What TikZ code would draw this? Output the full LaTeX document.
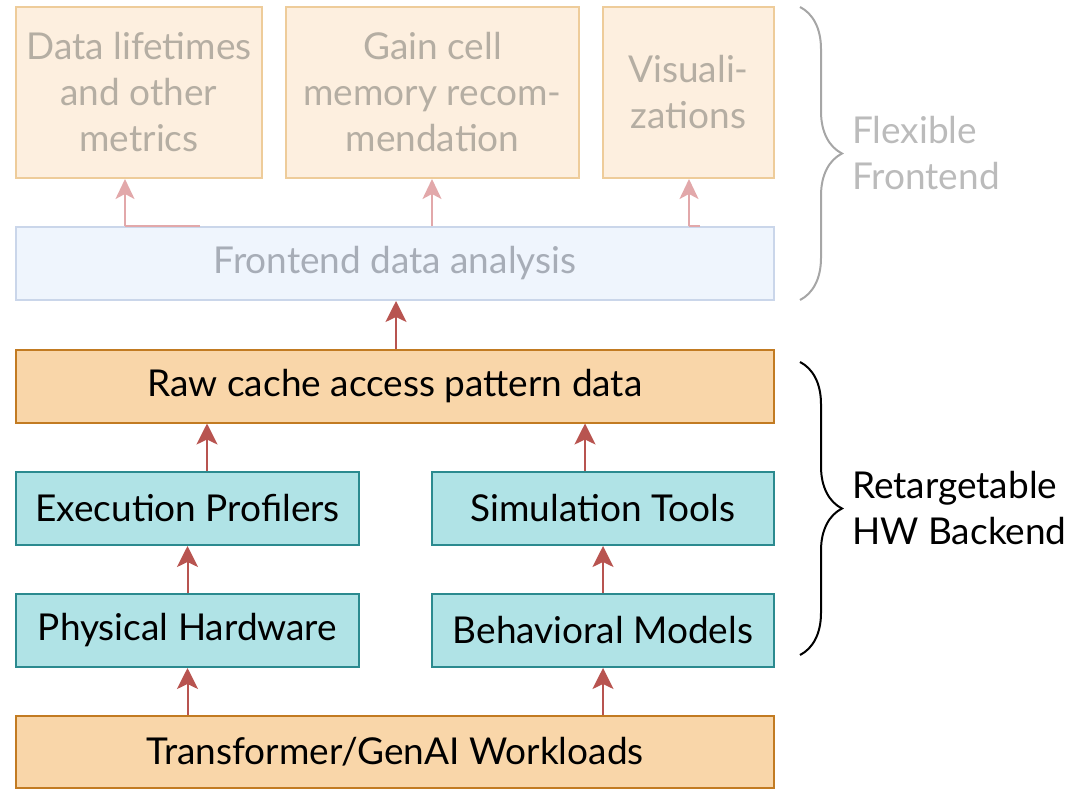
\documentclass[tikz,border=0pt]{standalone}
\usepackage{fontspec}
\setmainfont{Lato}
\usetikzlibrary{arrows.meta,decorations.pathreplacing}

\definecolor{peachfill}{HTML}{F9D6A9}
\definecolor{peachline}{HTML}{C27B22}
\definecolor{tealfill}{HTML}{B0E3E6}
\definecolor{tealline}{HTML}{2B8A8F}
\definecolor{arrowred}{HTML}{B85450}
\definecolor{palepeach}{HTML}{FDEFDF}
\definecolor{palepeachline}{HTML}{EECC9A}
\definecolor{palebluefill}{HTML}{EFF5FD}
\definecolor{paleblueline}{HTML}{CAD6EA}
\definecolor{palearrow}{HTML}{E2A8AA}
\definecolor{paletext}{HTML}{B5AEA3}
\definecolor{palebluetext}{HTML}{A7ADB7}
\definecolor{bracegray}{HTML}{A6A6A6}
\definecolor{bracetext}{HTML}{BBBBBB}

\tikzset{
  basebox/.style={rectangle, inner sep=0pt, line width=2pt, align=center,
    font=\fontsize{37}{46}\selectfont},
  rawbox/.style={basebox, draw=peachline, fill=peachfill, text=black},
  toolbox/.style={basebox, draw=tealline, fill=tealfill, text=black},
  outbox/.style={basebox, draw=palepeachline, fill=palepeach, text=paletext},
  anabox/.style={basebox, draw=paleblueline, fill=palebluefill, text=palebluetext},
  flow/.style={draw=arrowred, line width=2pt,
    -{Stealth[length=21pt, width=21pt, inset=5pt]}},
  paleflow/.style={draw=palearrow, line width=2pt,
    -{Stealth[length=20pt, width=19pt, inset=5pt]}},
  bracket/.style={decorate, line width=2pt,
    decoration={brace, amplitude=42pt}},
  sidelabel/.style={anchor=west, align=left, inner sep=0pt,
    font=\fontsize{37}{46}\selectfont},
}

\begin{document}
\begin{tikzpicture}[x=1pt, y=-1pt]
\useasboundingbox (0,0) rectangle (1065,789);

% output stage
\node[outbox, minimum width=246pt, minimum height=171pt] (life) at (139,92.5)
  {Data lifetimes\\and other\\metrics};
\node[outbox, minimum width=293pt, minimum height=171pt] (gain) at (432.5,92.5)
  {Gain cell\\memory recom-\\mendation};
\node[outbox, minimum width=171pt, minimum height=171pt] (vis) at (688.5,92.5)
  {Visuali-\\zations};
\node[anabox, minimum width=758pt, minimum height=73pt] (ana) at (395,263.5)
  {Frontend data analysis};

% backend stage
\node[rawbox, minimum width=758pt, minimum height=73pt] (raw) at (395,386)
  {Raw cache access pattern data};
\node[toolbox, minimum width=343pt, minimum height=73pt] (prof) at (187.5,508.5)
  {Execution Profilers};
\node[toolbox, minimum width=342pt, minimum height=73pt] (sim) at (603,508.5)
  {Simulation Tools};
\node[toolbox, minimum width=343pt, minimum height=73pt] (phys) at (187.5,630.5)
  {Physical Hardware};
\node[toolbox, minimum width=342pt, minimum height=73pt] (beh) at (603,630.5)
  {Behavioral Models};
\node[rawbox, minimum width=758pt, minimum height=72pt] (work) at (395,752)
  {Transformer/GenAI Workloads};

% connector columns
\coordinate (xa) at (125,0);
\coordinate (xastub) at (200,0);
\coordinate (xb) at (432,0);
\coordinate (xc) at (689,0);
\coordinate (xcstub) at (700,0);
\coordinate (xd) at (396,0);
\coordinate (xe) at (207,0);
\coordinate (xf) at (585,0);

% pale connectors into the outputs
\draw[draw=palearrow, line width=2pt] (ana.north -| xastub) -- (ana.north -| xa);
\draw[draw=palearrow, line width=2pt] (ana.north -| xcstub) -- (ana.north -| xc);
\draw[paleflow] (ana.north -| xa) -- (life.south -| xa);
\draw[paleflow] (ana.north -| xb) -- (gain.south -| xb);
\draw[paleflow] (ana.north -| xc) -- (vis.south -| xc);

% data flow
\draw[flow] (raw.north -| xd) -- (ana.south -| xd);
\draw[flow] (prof.north -| xe) -- (raw.south -| xe);
\draw[flow] (sim.north -| xf) -- (raw.south -| xf);
\draw[flow] (phys.north) -- (prof.south);
\draw[flow] (beh.north) -- (sim.south);
\draw[flow] (work.north -| phys.south) -- (phys.south);
\draw[flow] (work.north -| beh.south) -- (beh.south);

% group braces
\coordinate (fbtop) at (800,7);
\coordinate (fbbot) at (800,300);
\coordinate (bbtop) at (800,362);
\coordinate (bbbot) at (800,655);
\draw[bracket, draw=bracegray] (fbtop) -- (fbbot);
\draw[bracket, draw=black] (bbtop) -- (bbbot);

\node[sidelabel, text=bracetext] (flex) at (852,153) {Flexible\\Frontend};
\node[sidelabel, text=black] (retarget) at (852,508) {Retargetable\\HW Backend};
\end{tikzpicture}
\end{document}
